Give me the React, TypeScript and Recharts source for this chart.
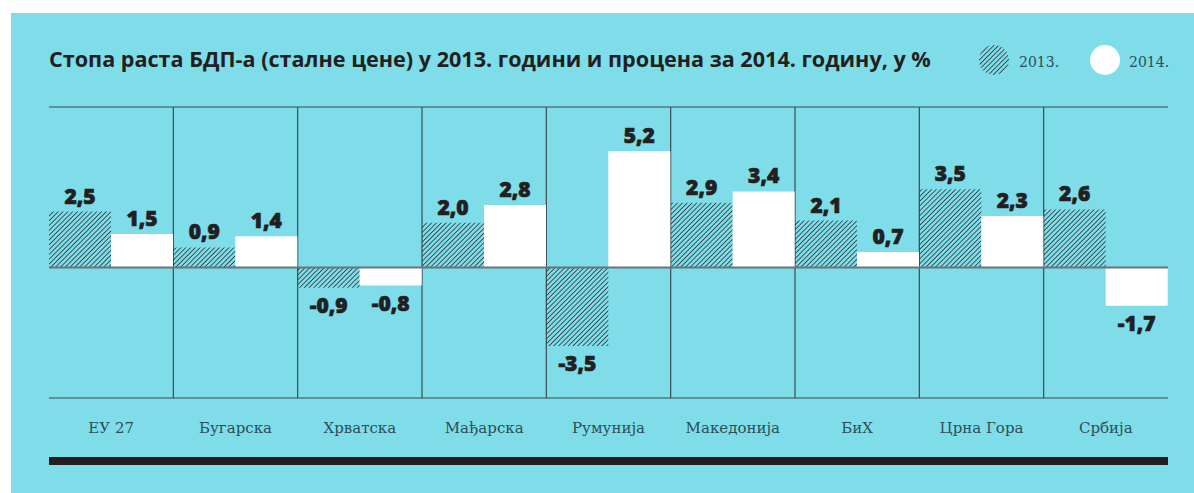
import React from "react";
import {
  BarChart,
  Bar,
  XAxis,
  YAxis,
  CartesianGrid,
  ReferenceLine,
  LabelList,
} from "recharts";

const categories = [
  "ЕУ 27",
  "Бугарска",
  "Хрватска",
  "Мађарска",
  "Румунија",
  "Македонија",
  "БиХ",
  "Црна Гора",
  "Србија",
];
const growth2013 = [2.5, 0.9, -0.9, 2.0, -3.5, 2.9, 2.1, 3.5, 2.6];
const growth2014 = [1.5, 1.4, -0.8, 2.8, 5.2, 3.4, 0.7, 2.3, -1.7];

const data = categories.map((name, i) => ({
  name,
  y2013: growth2013[i],
  y2014: growth2014[i],
}));

const CYAN = "#7edde9";
const DARK = "#231f20";
const fmt = (v: number) => String(v.toFixed(1)).replace(".", ",");

const ValueLabel = (props: any) => {
  const { x, y, width, height, value } = props;
  const top = Math.min(y, y + height);
  const bottom = Math.max(y, y + height);
  const ty = value >= 0 ? top - 8 : bottom + 25;
  return (
    <text
      x={x + width / 2}
      y={ty}
      textAnchor="middle"
      fontFamily="'Open Sans', 'Noto Sans', sans-serif"
      fontWeight={800}
      fontSize={21}
      fill={DARK}
      stroke={DARK}
      strokeWidth={0.7}
    >
      {fmt(value)}
    </text>
  );
};

const CategoryTick = (props: any) => {
  const { x, y, payload } = props;
  return (
    <text
      x={x}
      y={y + 27}
      textAnchor="middle"
      fontFamily="'DejaVu Serif', serif"
      fontSize={15}
      fill="#2e4f57"
    >
      {payload.value}
    </text>
  );
};

export default function App() {
  return (
    <div
      style={{
        position: "absolute",
        left: 0,
        top: 0,
        width: 1194,
        height: 493,
        background: "#fff",
        overflow: "hidden",
      }}
    >
      <svg width={0} height={0} style={{ position: "absolute" }}>
        <defs>
          <pattern
            id="hatch"
            patternUnits="userSpaceOnUse"
            width={3.4}
            height={3.4}
            patternTransform="rotate(45)"
          >
            <line x1={0} y1={0} x2={0} y2={3.4} stroke="#2a2a2a" strokeWidth={1.5} />
          </pattern>
        </defs>
      </svg>
      <div
        style={{
          position: "absolute",
          left: 11,
          top: 13,
          width: 1183,
          height: 480,
          background: CYAN,
        }}
      />
      <div
        style={{
          position: "absolute",
          left: 49,
          top: 45,
          fontFamily: "'Open Sans', 'Noto Sans', sans-serif",
          fontWeight: 700,
          fontSize: 21.6,
          color: DARK,
          whiteSpace: "nowrap",
          lineHeight: "28px",
        }}
      >
        Стопа раста БДП-а (сталне цене) у 2013. години и процена за 2014. годину, у %
      </div>
      <svg
        width={1194}
        height={100}
        style={{ position: "absolute", left: 0, top: 0 }}
      >
        <circle cx={994} cy={60} r={15} fill="url(#hatch)" />
        <text x={1019} y={67} fontFamily="'DejaVu Serif', serif" fontSize={14} fill="#2e4f57">
          2013.
        </text>
        <circle cx={1105} cy={60} r={15} fill="#fff" />
        <text x={1129} y={67} fontFamily="'DejaVu Serif', serif" fontSize={14} fill="#2e4f57">
          2014.
        </text>
      </svg>
      <div style={{ position: "absolute", left: 0, top: 0 }}>
        <BarChart
          width={1194}
          height={493}
          data={data}
          margin={{ top: 107, right: 26, left: 49, bottom: 65 }}
          barCategoryGap={0}
          barGap={0}
        >
          <CartesianGrid
            stroke="#3d4b50"
            strokeWidth={1.2}
            verticalCoordinatesGenerator={({ offset }: any) =>
              categories.slice(1).map((_, i) => offset.left + ((i + 1) * offset.width) / categories.length)
            }
            horizontalCoordinatesGenerator={({ offset }: any) => [offset.top, offset.top + offset.height]}
          />
          <XAxis
            dataKey="name"
            axisLine={false}
            tickLine={false}
            height={30}
            interval={0}
            tick={<CategoryTick />}
          />
          <YAxis hide domain={[-5.82, 7.17]} />
          <Bar dataKey="y2013" fill="url(#hatch)" isAnimationActive={false}>
            <LabelList dataKey="y2013" content={<ValueLabel />} />
          </Bar>
          <Bar dataKey="y2014" fill="#ffffff" isAnimationActive={false}>
            <LabelList dataKey="y2014" content={<ValueLabel />} />
          </Bar>
          <ReferenceLine y={0} stroke="#6a7478" strokeWidth={2} />
        </BarChart>
      </div>
      <div
        style={{
          position: "absolute",
          left: 49,
          top: 457,
          width: 1119,
          height: 8,
          background: DARK,
        }}
      />
    </div>
  );
}
